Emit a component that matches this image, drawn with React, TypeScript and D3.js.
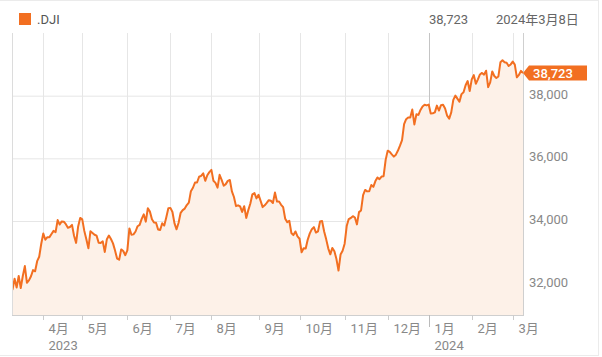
import React from "react";
import * as d3 from "d3";

// Trading days per month (day numbers)
const tradingMonths: [string, number[]][] = [
  ["2023-03", [10, 13, 14, 15, 16, 17, 20, 21, 22, 23, 24, 27, 28, 29, 30, 31]],
  ["2023-04", [3, 4, 5, 6, 10, 11, 12, 13, 14, 17, 18, 19, 20, 21, 24, 25, 26, 27, 28]],
  ["2023-05", [1, 2, 3, 4, 5, 8, 9, 10, 11, 12, 15, 16, 17, 18, 19, 22, 23, 24, 25, 26, 30, 31]],
  ["2023-06", [1, 2, 5, 6, 7, 8, 9, 12, 13, 14, 15, 16, 20, 21, 22, 23, 26, 27, 28, 29, 30]],
  ["2023-07", [3, 5, 6, 7, 10, 11, 12, 13, 14, 17, 18, 19, 20, 21, 24, 25, 26, 27, 28, 31]],
  ["2023-08", [1, 2, 3, 4, 7, 8, 9, 10, 11, 14, 15, 16, 17, 18, 21, 22, 23, 24, 25, 28, 29, 30, 31]],
  ["2023-09", [1, 5, 6, 7, 8, 11, 12, 13, 14, 15, 18, 19, 20, 21, 22, 25, 26, 27, 28, 29]],
  ["2023-10", [2, 3, 4, 5, 6, 9, 10, 11, 12, 13, 16, 17, 18, 19, 20, 23, 24, 25, 26, 27, 30, 31]],
  ["2023-11", [1, 2, 3, 6, 7, 8, 9, 10, 13, 14, 15, 16, 17, 20, 21, 22, 24, 27, 28, 29, 30]],
  ["2023-12", [1, 4, 5, 6, 7, 8, 11, 12, 13, 14, 15, 18, 19, 20, 21, 22, 26, 27, 28, 29]],
  ["2024-01", [2, 3, 4, 5, 8, 9, 10, 11, 12, 16, 17, 18, 19, 22, 23, 24, 25, 26, 29, 30, 31]],
  ["2024-02", [1, 2, 5, 6, 7, 8, 9, 12, 13, 14, 15, 16, 20, 21, 22, 23, 26, 27, 28, 29]],
  ["2024-03", [1, 4, 5, 6, 7, 8]],
];

const closes: number[] = [
  // Mar 2023
  31909.64, 31819.14, 32155.4, 31874.57, 32246.55, 31861.98, 32244.58, 32560.6, 32030.11, 32105.25, 32237.53, 32432.08, 32394.25, 32717.6, 32859.03, 33274.15,
  // Apr
  33601.15, 33402.38, 33482.72, 33485.29, 33586.52, 33684.79, 33646.5, 34029.69, 33886.47, 33987.18, 33976.63, 33897.01, 33786.62, 33808.96, 33875.4, 33530.83, 33301.87, 33826.16, 34098.16,
  // May
  34051.7, 33684.53, 33414.24, 33127.74, 33674.38, 33618.69, 33561.81, 33531.33, 33309.51, 33300.62, 33348.6, 33012.14, 33420.77, 33535.91, 33426.63, 33286.58, 33055.51, 32799.92, 32764.65, 33093.34, 33042.78, 32908.27,
  // Jun
  33061.57, 33762.76, 33562.86, 33573.28, 33665.02, 33833.61, 33876.78, 34066.33, 34212.12, 33979.33, 34408.06, 34299.12, 34053.87, 33951.52, 33946.71, 33727.43, 33714.71, 33926.74, 33852.66, 34122.42, 34407.6,
  // Jul
  34418.47, 34288.64, 33922.26, 33734.88, 33944.4, 34261.42, 34347.43, 34395.14, 34509.03, 34585.35, 34951.93, 35061.21, 35225.18, 35227.69, 35411.24, 35438.07, 35520.12, 35282.72, 35459.29, 35559.53,
  // Aug
  35630.68, 35282.52, 35215.89, 35065.62, 35473.13, 35314.49, 35123.36, 35176.15, 35281.4, 35307.63, 34946.39, 34765.74, 34474.83, 34500.66, 34463.69, 34288.83, 34472.98, 34099.42, 34346.9, 34559.98, 34852.67, 34890.24, 34721.91,
  // Sep
  34837.71, 34641.97, 34443.19, 34500.73, 34576.59, 34663.72, 34645.99, 34575.53, 34907.11, 34618.24, 34624.3, 34517.73, 34440.88, 34070.42, 33963.84, 34006.88, 33618.88, 33550.27, 33666.34, 33507.5,
  // Oct
  33433.35, 33002.38, 33129.55, 33119.57, 33407.58, 33604.65, 33739.3, 33804.87, 33631.14, 33670.29, 33984.54, 33997.65, 33665.08, 33414.17, 33127.28, 32936.41, 33141.38, 33035.93, 32784.3, 32417.59, 32928.96, 33052.87,
  // Nov
  33274.58, 33839.08, 34061.32, 34095.86, 34152.6, 34112.27, 33891.94, 34283.1, 34337.87, 34827.7, 34991.21, 34945.47, 34947.28, 35151.04, 35088.29, 35273.03, 35390.15, 35333.47, 35416.98, 35430.42, 35950.89,
  // Dec
  36245.5, 36204.44, 36124.56, 36054.43, 36117.38, 36247.87, 36404.93, 36577.94, 37090.24, 37248.35, 37305.16, 37306.02, 37557.92, 37082.0, 37404.35, 37385.97, 37545.33, 37656.52, 37710.1, 37689.54,
  // Jan 2024
  37715.04, 37430.19, 37440.34, 37466.11, 37683.01, 37525.16, 37695.73, 37711.02, 37592.98, 37361.12, 37266.67, 37468.61, 37863.8, 38001.81, 37905.45, 37806.39, 38049.13, 38109.43, 38333.45, 38467.31, 38150.3,
  // Feb
  38519.84, 38654.42, 38380.12, 38521.36, 38677.36, 38726.33, 38671.69, 38797.38, 38272.75, 38424.27, 38773.12, 38627.99, 38563.8, 38612.24, 39069.11, 39131.53, 39069.23, 39053.24, 38949.02, 38996.39,
  // Mar
  39087.38, 38989.83, 38585.19, 38661.05, 38791.35, 38722.69,
];

const yTicks = [32000, 34000, 36000, 38000];
const monthLabels = ["4月", "5月", "6月", "7月", "8月", "9月", "10月", "11月", "12月", "1月", "2月", "3月"];
const yearLabels: Record<string, string> = { "4月": "2023", "1月": "2024" };
const seriesName = ".DJI";
const headerValue = "38,723";
const headerDate = "2024年3月8日";
const lastLabel = "38,723";

const ORANGE = "#f26f21";
const FONT = "Roboto, 'Noto Sans CJK JP', sans-serif";

export default function App() {
  const W = 602, H = 357;
  const left = 12, right = 523, top = 33, bottom = 315;

  // month start indices (first trading day of each month except the first partial month)
  const monthStarts: number[] = [];
  let idx = 0;
  tradingMonths.forEach(([, days], m) => {
    if (m > 0) monthStarts.push(idx);
    idx += days.length;
  });

  const x = d3.scaleLinear().domain([0, closes.length - 1]).range([10.5, right]);
  const y = d3.scaleLinear().domain([31000, 40000]).range([bottom, top]);

  const area = d3
    .area<number>()
    .x((_, i) => x(i))
    .y0(bottom)
    .y1((d) => y(d));
  const line = d3
    .line<number>()
    .x((_, i) => x(i))
    .y((d) => y(d));

  const janIdx = monthStarts[monthLabels.indexOf("1月")];
  const last = closes[closes.length - 1];
  const ly = y(last);

  return (
    <svg
      width={W}
      height={H}
      style={{ position: "absolute", left: 0, top: 0, fontFamily: FONT }}
    >
      <rect x={0} y={0} width={W} height={H} fill="#fff" />
      <rect x={-2} y={0.5} width={600.5} height={355} fill="none" stroke="#ebebeb" />
      <defs>
        <clipPath id="plotClip">
          <rect x={left} y={top - 5} width={right - left} height={bottom - top + 5} />
        </clipPath>
      </defs>

      {/* legend */}
      <rect x={19} y={13} width={12} height={12} fill={ORANGE} />
      <text x={37} y={24} fontSize={13} fill="#555">{seriesName}</text>

      {/* header */}
      <text x={429} y={24} fontSize={13} fill="#666">{headerValue}</text>
      <text x={496} y={24} fontSize={13} fill="#666">{headerDate}</text>

      {/* grid */}
      {yTicks.map((t) => (
        <line key={t} x1={left} x2={right} y1={y(t) + 0.5} y2={y(t) + 0.5} stroke="#e6e6e6" />
      ))}
      {monthStarts.map((i, k) => (
        <line
          key={k}
          x1={Math.round(x(i)) + 0.5}
          x2={Math.round(x(i)) + 0.5}
          y1={top}
          y2={bottom}
          stroke={k === monthLabels.indexOf("1月") ? "#c4c4c4" : "#e6e6e6"}
        />
      ))}

      {/* area and line */}
      <g clipPath="url(#plotClip)">
        <path d={area(closes) || ""} fill="#fdf1e8" />
        <path d={line(closes) || ""} fill="none" stroke={ORANGE} strokeWidth={2} strokeLinejoin="round" />
      </g>

      {/* plot borders */}
      <line x1={left + 0.5} x2={left + 0.5} y1={top} y2={bottom} stroke="#dcdcdc" />
      <line x1={right + 0.5} x2={right + 0.5} y1={top} y2={bottom} stroke="#cfcfcf" />
      <line x1={left} x2={right + 1} y1={bottom + 0.5} y2={bottom + 0.5} stroke="#cfcfcf" />

      {/* y labels */}
      {yTicks.map((t) => (
        <text key={t} x={529} y={y(t) + 3} fontSize={13} fill="#888">
          {d3.format(",")(t)}
        </text>
      ))}

      {/* x ticks and labels */}
      {monthStarts.map((i, k) => {
        const xx = Math.round(x(i)) + 0.5;
        const lab = monthLabels[k];
        const isJan = lab === "1月";
        return (
          <g key={k}>
            <line x1={xx} x2={xx} y1={bottom} y2={bottom + (isJan ? 12 : 5)} stroke={isJan ? "#bbb" : "#ccc"} />
            <text x={xx + 5} y={333} fontSize={13} fill="#888">{lab}</text>
            {yearLabels[lab] && (
              <text x={xx + 5} y={350} fontSize={13} fill="#888">{yearLabels[lab]}</text>
            )}
          </g>
        );
      })}

      {/* last value tag */}
      <path
        d={`M${right},${ly} L${right + 6},${ly - 7.5} L${587},${ly - 7.5} L${587},${ly + 7.5} L${right + 6},${ly + 7.5} Z`}
        fill={ORANGE}
      />
      <text x={533} y={ly + 4.5} fontSize={13} fontWeight={500} fill="#fff">{lastLabel}</text>
    </svg>
  );
}
